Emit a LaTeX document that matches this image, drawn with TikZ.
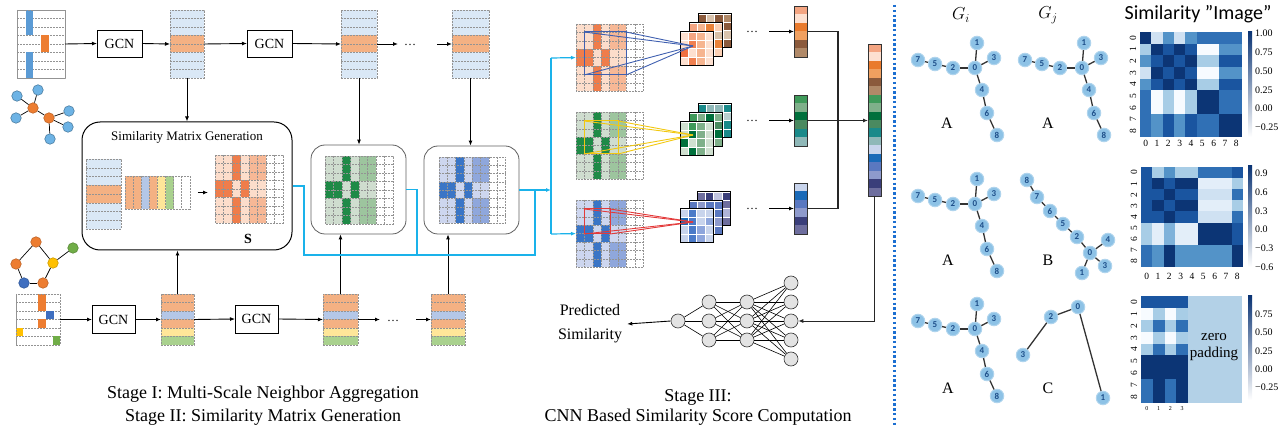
\documentclass[tikz,border=0pt]{standalone}
\usepackage{fontspec}
\setmainfont{Liberation Serif}
\newfontfamily\carlito{Carlito}
\usetikzlibrary{arrows.meta,calc}

\definecolor{lb}{HTML}{DAE8F6}
\definecolor{orf}{HTML}{F4B183}
\definecolor{blf}{HTML}{B4C7E7}
\definecolor{yef}{HTML}{FFE699}
\definecolor{grf}{HTML}{A9D18E}
\definecolor{obar}{HTML}{ED7D31}
\definecolor{bbar}{HTML}{5B9BD5}
\definecolor{bbar2}{HTML}{3F6FC0}
\definecolor{yelbar}{HTML}{FFC000}
\definecolor{gbar}{HTML}{70AD47}
\definecolor{icb}{HTML}{6DB3E5}
\definecolor{or0}{HTML}{FFFFFF}\definecolor{or1}{HTML}{FCDDCB}\definecolor{or2}{HTML}{F7B896}\definecolor{or3}{HTML}{EF7D4B}
\definecolor{gr0}{HTML}{FFFFFF}\definecolor{gr1}{HTML}{CFDDCF}\definecolor{gr2}{HTML}{9DC59E}\definecolor{gr3}{HTML}{1F8A47}
\definecolor{bl0}{HTML}{FFFFFF}\definecolor{bl1}{HTML}{CDD6EF}\definecolor{bl2}{HTML}{8FA7DC}\definecolor{bl3}{HTML}{3A75C6}
\definecolor{cyanc}{HTML}{1AB2EA}
\definecolor{hm0}{HTML}{F7FBFF}\definecolor{hm1}{HTML}{E3EEF9}\definecolor{hm2}{HTML}{CFE1F2}
\definecolor{hm3}{HTML}{A8CDE6}\definecolor{hm4}{HTML}{7FB2DA}\definecolor{hm5}{HTML}{5393C8}
\definecolor{hm6}{HTML}{3070B5}\definecolor{hm7}{HTML}{1A55A0}\definecolor{hm8}{HTML}{0C3575}
\definecolor{padc}{HTML}{B3D1E7}
\definecolor{gnodec}{HTML}{8DC2E6}
\definecolor{gtext}{HTML}{1D4E89}
\definecolor{dotc}{HTML}{1C6FD1}
\definecolor{kblue}{HTML}{4060B0}
\definecolor{kyel}{HTML}{F2C811}
\definecolor{kred}{HTML}{E33A3A}

% feature column: name, x, y, w, h, rowh, colours
\newcommand\FeatCol[7]{%
  \foreach \cc [count=\i from 0] in {#7} {
    \fill[fill=\cc] (#2,{#3+\i*#6}) rectangle ++(#4,#6);
  }
  \foreach \cc [count=\i from 0] in {#7} {
    \ifnum\i>0 \draw[gl] (#2,{#3+\i*#6}) -- ++(#4,0);\fi
  }
  \node[inner sep=0, outer sep=0, minimum width=#4pt, minimum height=#5pt, anchor=north west, draw=gray!85, line width=0.5pt, dash pattern=on 2pt off 1pt] (#1) at (#2,#3) {};
}
% similarity matrix: x, y, cell, prefix
\newcommand\SimMat[4]{%
  \foreach \rw [count=\r from 0] in {{1,1,3,1,2,2,0,0},{1,1,3,1,2,2,0,0},{1,1,3,1,2,2,0,0},{3,3,1,3,1,1,0,0},{3,3,1,3,1,1,0,0},{1,1,3,1,2,2,0,0},{1,1,3,1,2,2,0,0},{1,1,3,1,2,2,0,0}} {
    \foreach \v [count=\c from 0] in \rw {
      \fill[fill=#4\v] ({#1+\c*#3},{#2+\r*#3}) rectangle ++(#3,#3);
    }
  }
  \foreach \k in {1,...,7} {
    \draw[gl] ({#1+\k*#3},#2) -- ++(0,{8*#3});
    \draw[gl] (#1,{#2+\k*#3}) -- ++({8*#3},0);
  }
  \draw[gl] (#1,#2) rectangle ++({8*#3},{8*#3});
}
% feature map 4x4: x, y, hex list
\newcommand\FMap[3]{%
  \foreach \cc [count=\i from 0] in {#3} {
    \pgfmathtruncatemacro\rr{floor(\i/4)}
    \pgfmathtruncatemacro\ccol{\i-4*\rr}
    \edef\tmpdef{\noexpand\definecolor{tmpc}{HTML}{\cc}}\tmpdef
    \fill[fill=tmpc, draw=white, line width=0.3pt] ({#1+\ccol*8.3},{#2+\rr*8.3}) rectangle ++(8.3,8.3);
  }
  \draw[line width=1pt] (#1,#2) rectangle ++(33.2,33.2);
}
% vector: name, x, y, cellh, total h, hex list
\newcommand\VecC[6]{%
  \foreach \cc [count=\i from 0] in {#6} {
    \edef\tmpdef{\noexpand\definecolor{tmpc}{HTML}{\cc}}\tmpdef
    \fill[fill=tmpc] (#2,{#3+\i*#4}) rectangle ++(13,#4);
  }
  \node[inner sep=0, outer sep=0, minimum width=13pt, minimum height=#5pt, anchor=north west, draw=black!80, line width=0.9pt] (#1) at (#2,#3) {};
}
% heatmap: x, y, cw, ch, rows
\newcommand\HeatMap[5]{%
  \foreach \rw [count=\r from 0] in {#5} {
    \foreach \v [count=\c from 0] in \rw {
      \fill[fill=hm\v] ({#1+\c*#3},{#2+\r*#4}) rectangle ++({#3+0.3},{#4+0.3});
    }
  }
}
\newcommand\GraphA[1]{%
  \foreach \n/\px/\py in {7/918/60,5/935/64,2/953/68,0/975/68,1/977/43,3/994/58,4/982/90,6/987/113,8/997/135} {
    \node[gn] (#1\n) at (\px,\py) {\n};
  }
  \foreach \a/\b in {7/5,5/2,2/0,0/1,0/3,0/4,4/6,6/8} {\draw[ge] (#1\a) -- (#1\b);}
}

\begin{document}
\begin{tikzpicture}[x=1pt,y=-1pt,
  gl/.style={draw=gray!85, line width=0.45pt, dash pattern=on 2pt off 1pt},
  arr/.style={-{Latex[length=5pt,width=4pt]}, line width=0.9pt},
  thk/.style={line width=1.3pt, draw=black!85},
  gcn/.style={draw, line width=0.8pt, minimum width=45pt, minimum height=27pt, inner sep=0, outer sep=0, font=\fontsize{14}{14}\selectfont},
  cy/.style={draw=cyanc, line width=1.2pt},
  cya/.style={draw=cyanc, line width=1.2pt, -{Latex[length=5pt,width=4pt]}},
  nn/.style={circle, draw=black!80, fill=gray!22, minimum size=14pt, inner sep=0, line width=0.6pt},
  ic/.style={circle, minimum size=10.5pt, inner sep=0, line width=0.6pt},
  gn/.style={circle, fill=gnodec, draw=gnodec!70, line width=1pt, minimum size=13.5pt, inner sep=0, font=\carlito\bfseries\fontsize{9}{9}\selectfont, text=gtext},
  ge/.style={line width=1.3pt, draw=black!80},
  tl/.style={font=\fontsize{9.5}{9.5}\selectfont, inner sep=0},
  cbl/.style={font=\fontsize{10}{10}\selectfont, anchor=west, inner sep=0}]
\useasboundingbox (0,0) rectangle (1288,430);

%================ Stage I top row
\FeatCol{in1}{17}{10}{48}{68}{8.5}{white,white,white,white,white,white,white,white}
\fill[fill=bbar] (26,10) rectangle (33,35.5);
\fill[fill=bbar] (26,52.5) rectangle (33,78);
\fill[fill=obar] (41,35.5) rectangle (49,52.5);
\draw[draw=gray!85, line width=0.5pt, dash pattern=on 2pt off 1pt] (in1.north west) rectangle (in1.south east);
\node[gcn] (g1) at (119.5,43.5) {GCN};
\FeatCol{c1}{170}{10}{34}{68}{8.5}{lb,lb,lb,orf,orf,lb,lb,lb}
\node[gcn] (g2) at (269.5,43.5) {GCN};
\FeatCol{c2}{341}{10}{36}{68}{8.5}{lb,lb,lb,orf,orf,lb,lb,lb}
\FeatCol{c3}{452}{10}{37}{68}{8.5}{lb,lb,lb,orf,orf,lb,lb,lb}
\draw[arr] (in1.east) -- (g1.west);
\draw[arr] (g1.east) -- (c1.west);
\draw[arr] (c1.east) -- (g2.west);
\draw[arr] (g2.east) -- (c2.west);
\coordinate (t1) at (398,44); \coordinate (t2) at (437,44);
\draw[arr] (c2.east) -- (t1);
\node[font=\fontsize{12}{12}\selectfont] (td) at (410,45) {\ldots};
\draw[arr] (t2) -- (c3.west);

% top graph icon
\node[ic, fill=obar, draw=obar!80!black] (ia) at (33,108) {};
\node[ic, fill=obar, draw=obar!80!black] (ib) at (49,118) {};
\foreach \nm/\px/\py in {ic1/17/96,ic2/38/90,ic3/16/118,ic4/69/111,ic5/68/127,ic6/50/139} {
  \node[ic, fill=icb, draw=icb!70!black] (\nm) at (\px,\py) {};
}
\foreach \a/\b in {ia/ib,ia/ic1,ia/ic2,ia/ic3,ib/ic4,ib/ic5,ib/ic6} {\draw[line width=0.7pt] (\a) -- (\b);}

%================ Similarity Matrix Generation box
\node[draw, line width=1pt, rounded corners=18pt, minimum width=210pt, minimum height=128pt, inner sep=0] (smg) at (187,186) {};
\node[font=\fontsize{13}{13}\selectfont] (smgt) at (187,137) {Similarity Matrix Generation};
\FeatCol{sv}{86}{159}{35}{70}{8.75}{lb,lb,lb,orf,orf,lb,lb,lb}
\foreach \cc [count=\i from 0] in {orf,orf,blf,orf,yef,grf,white,white} {
  \fill[fill=\cc] ({125+\i*8.1},176) rectangle ++(8.1,33);
}
\foreach \k in {1,...,7} {\draw[gl] ({125+\k*8.1},176) -- ++(0,33);}
\node[inner sep=0, outer sep=0, minimum width=64.8pt, minimum height=33pt, anchor=north west, draw=gray!85, line width=0.5pt, dash pattern=on 2pt off 1pt] (sh) at (125,176) {};
\SimMat{215}{155}{8.5}{or}
\node[inner sep=0, outer sep=0, minimum size=68pt, anchor=north west] (sm) at (215,155) {};
\draw[arr, shorten <=8pt, shorten >=7pt] (sh.east) -- (sh.east -| sm.west);
\node[font=\bfseries\fontsize{14}{14}\selectfont] (slab) at (248,239) {S};

% green and blue boxes
\node[draw=gray!75!black, line width=0.8pt, rounded corners=14pt, minimum width=95pt, minimum height=89pt, inner sep=0] (gbox) at (358.5,189.5) {};
\SimMat{325}{156}{8.5}{gr}
\node[draw=gray!75!black, line width=0.8pt, rounded corners=14pt, minimum width=95pt, minimum height=88pt, inner sep=0] (bbox) at (471.5,190) {};
\SimMat{439}{157}{8.3}{bl}

\draw[arr] (c1.south) -- (c1.south |- smg.north);
\draw[arr] (c2.south) -- (c2.south |- gbox.north);
\draw[arr] (c3.south) -- (c3.south |- bbox.north);

%================ Stage I bottom row
\FeatCol{in2}{16}{294}{44}{51}{8.5}{white,white,white,white,white,white}
\fill[fill=obar] (38,294) rectangle (46,311);
\fill[fill=bbar2] (46,311) rectangle (54,319.5);
\fill[fill=obar] (38,319.5) rectangle (46,328);
\fill[fill=yelbar] (16,328) rectangle (23,336.5);
\fill[fill=gbar] (53,336.5) rectangle (60,345);
\draw[draw=gray!85, line width=0.5pt, dash pattern=on 2pt off 1pt] (in2.north west) rectangle (in2.south east);
\node[gcn, minimum width=43pt, minimum height=28pt] (g3) at (113.5,319.5) {GCN};
\FeatCol{d1}{161}{294}{33}{51}{8.5}{orf,orf,blf,orf,yef,grf}
\node[gcn, minimum width=43pt, minimum height=28pt] (g4) at (256.5,319) {GCN};
\FeatCol{d2}{323}{294}{35}{51}{8.5}{orf,orf,blf,orf,yef,grf}
\FeatCol{d3}{431}{294}{34}{51}{8.5}{orf,orf,blf,orf,yef,grf}
\draw[arr] (in2.east) -- (g3.west);
\draw[arr] (g3.east) -- (d1.west);
\draw[arr] (d1.east) -- (g4.west);
\draw[arr] (g4.east) -- (d2.west);
\coordinate (b1) at (380,319.5); \coordinate (b2) at (416,319.5);
\draw[arr] (d2.east) -- (b1);
\node[font=\fontsize{12}{12}\selectfont] (bd) at (393,321) {\ldots};
\draw[arr] (b2) -- (d3.west);
\draw[arr] (d1.north) -- (d1.north |- smg.south);
\draw[arr] (d2.north) -- (d2.north |- gbox.south);
\draw[arr] (d3.north) -- (d3.north |- bbox.south);

% bottom graph icon
\node[ic, fill=obar, draw=obar!80!black] (ja) at (36,242) {};
\node[ic, fill=obar, draw=obar!80!black] (jb) at (16,264) {};
\node[ic, fill=yelbar, draw=yelbar!80!black] (jc) at (53,263) {};
\node[ic, fill=gbar, draw=gbar!80!black] (jd) at (73,248) {};
\node[ic, fill=bbar2, draw=bbar2!80!black] (je) at (24,283) {};
\node[ic, fill=obar, draw=obar!80!black] (jf) at (43,283) {};
\foreach \a/\b in {ja/jb,ja/jc,jc/jd,jb/je,je/jf,jf/jc} {\draw[line width=0.7pt] (\a) -- (\b);}

\node[align=center, font=\fontsize{18}{23}\selectfont] (cap1) at (263,405.5) {Stage I: Multi-Scale Neighbor Aggregation\\Stage II: Similarity Matrix Generation};

%================ Stage III
\SimMat{576}{24}{8.4}{or}
\node[inner sep=0, outer sep=0, minimum size=67.2pt, anchor=north west] (m1) at (576,24) {};
\SimMat{576}{112}{8.4}{gr}
\node[inner sep=0, outer sep=0, minimum size=67.2pt, anchor=north west] (m2) at (576,112) {};
\SimMat{576}{200}{8.4}{bl}
\node[inner sep=0, outer sep=0, minimum size=67.2pt, anchor=north west] (m3) at (576,200) {};

% cyan connections
\coordinate (k1) at (304,186); \coordinate (k2) at (304,255); \coordinate (k3) at (535,255);
\coordinate (k4) at (417,189.5); \coordinate (k5) at (417,255); \coordinate (k6) at (535,190);
\coordinate (vt) at (551,58); \coordinate (vb) at (551,234);
\draw[cy] (smg.east) -- (k1) -- (k2) -- (k3) -- (k6);
\draw[cy] (gbox.east) -- (k4) -- (k5);
\draw[cya] (bbox.east) -- (vt |- bbox.east);
\draw[cy] (vt) -- (vb);
\draw[cya] (vt) -- (m1.west);
\draw[cya] (vb) -- (m3.west);

% feature map stacks
\FMap{698}{14}{8b5a3c,d9c3ad,8b5a3c,b08968,b08968,8b5a3c,d9c3ad,8b5a3c,8b5a3c,b08968,8b5a3c,d9c3ad,d9c3ad,8b5a3c,b08968,8b5a3c}
\FMap{689}{23}{f4a582,f6b590,e9823a,fbd0b5,f08a4b,fde0d0,f4a582,d8c0a8,f4a582,f08a4b,fbd0b5,e9823a,fde0d0,f4a582,e9823a,fbd0b5}
\FMap{680}{32}{fde0d0,f4a582,f6b590,fde0d0,fde0d0,f08050,f6b590,fde0d0,f07040,fde0d0,f6b590,fde0d0,fde0d0,f08050,f6b590,fde0d0}
\draw[kblue, line width=1pt] (584,32) rectangle (626,75);
\foreach \p in {(584,32),(626,32),(584,75),(626,75)} {\draw[kblue, line width=0.9pt] \p -- (693,46);}

\FMap{698}{104}{1a8a8a,8fb8b8,8fb8b8,1a8a8a,8fb8b8,1a8a8a,8fb8b8,b8d0d0,1a8a8a,8fb8b8,1a8a8a,1a8a8a,8fb8b8,1a8a8a,8fb8b8,1a8a8a}
\FMap{689}{113}{3f9a5a,7fb08a,00703c,7fb08a,7fb08a,00703c,7fb08a,4a8a60,00703c,7fb08a,3f9a5a,00703c,7fb08a,3f9a5a,00703c,7fb08a}
\FMap{680}{122}{d0e0d0,3f9a5a,7fb08a,d0e0d0,d0e0d0,00703c,7fb08a,d0e0d0,00703c,d0e0d0,7fb08a,d0e0d0,d0e0d0,00703c,7fb08a,d0e0d0}
\draw[kyel, line width=1pt] (584,121) rectangle (618,154);
\foreach \p in {(584,121),(618,121),(584,154),(618,154)} {\draw[kyel, line width=0.9pt] \p -- (693,135);}

\FMap{697}{192}{6e6e9e,3a3e7a,c0c4e0,3a3e7a,3a3e7a,6e6e9e,3a3e7a,6e6e9e,6e6e9e,3a3e7a,6e6e9e,b0b4d8,3a3e7a,6e6e9e,3a3e7a,6e6e9e}
\FMap{689}{201}{5a78c0,8e9acc,5a78c0,5a78c0,3a5aa8,5a78c0,8e9acc,5a78c0,5a78c0,8e9acc,5a78c0,8e9acc,8e9acc,5a78c0,8e9acc,5a78c0}
\FMap{680}{209}{c8d4ec,4a7ac8,c8d4ec,c8d4ec,1a6ab8,4a7ac8,c8d4ec,8ea6dc,c8d4ec,4a7ac8,8ea6dc,c8d4ec,c8d4ec,4a7ac8,8ea6dc,c8d4ec}
\draw[kred, line width=1pt] (584,209) rectangle (610,234);
\foreach \p in {(584,209),(610,209),(584,234),(610,234)} {\draw[kred, line width=0.9pt] \p -- (693,222);}

% vectors
\VecC{v1}{794}{6}{8.5}{51}{f4a582,fde0d0,e97a2c,f0a060,8b5a3c,b08968}
\VecC{v2}{794}{95}{8.5}{51}{3f9a5a,7fb08a,00703c,4a8a60,1a8a8a,8fb8b8}
\VecC{v3}{794}{183}{8.5}{51}{c8d4ec,1a6ab8,5a78c0,8e9acc,3a3e7a,6e6e9e}
\VecC{fv}{868}{44}{8.45}{152.1}{f4a582,fde0d0,e97a2c,f0a060,8b5a3c,b08968,3f9a5a,7fb08a,00703c,4a8a60,1a8a8a,8fb8b8,c8d4ec,1a6ab8,5a78c0,8e9acc,3a3e7a,6e6e9e}

\foreach \yy/\nm in {31.5/p1,120.5/p2,208.5/p3} {
  \node[font=\fontsize{12}{12}\selectfont] at (752,\yy) {\ldots};
  \coordinate (\nm) at (769,\yy);
}
\draw[arr] (p1) -- (v1.west);
\draw[arr] (p2) -- (v2.west);
\draw[arr] (p3) -- (v3.west);
\coordinate (jn) at (838,120.5);
\draw[thk] (v1.east) -| (jn);
\draw[thk] (v3.east) -| (jn);
\draw[thk, arr] (v2.east) -- (v2.east -| fv.west);

% neural network
\node[nn] (n1) at (678,321) {};
\node[nn] (n2a) at (709,302) {}; \node[nn] (n2b) at (709,321) {}; \node[nn] (n2c) at (709,340) {};
\node[nn] (n3a) at (747,302) {}; \node[nn] (n3b) at (747,321) {}; \node[nn] (n3c) at (747,340) {};
\node[nn] (n4a) at (791,283) {}; \node[nn] (n4b) at (791,302) {}; \node[nn] (n4c) at (791,321) {};
\node[nn] (n4d) at (791,340) {}; \node[nn] (n4e) at (791,359) {};
\foreach \a in {n2a,n2b,n2c} {\draw[line width=0.6pt] (n1) -- (\a);}
\foreach \a in {n2a,n2b,n2c} {\foreach \b in {n3a,n3b,n3c} {\draw[line width=0.6pt] (\a) -- (\b);}}
\foreach \a in {n3a,n3b,n3c} {\foreach \b in {n4a,n4b,n4c,n4d,n4e} {\draw[line width=0.6pt] (\a) -- (\b);}}
\draw[thk, arr] (fv.south) |- (n4c.east);
\node[align=center, font=\fontsize{16}{24}\selectfont, inner sep=5pt] (pred) at (590,324) {Predicted\\Similarity};
\draw[arr] (n1.west) -- (pred.east);

\node[align=center, font=\fontsize{18}{20}\selectfont] (cap3) at (698,407) {Stage III:\\CNN Based Similarity Score Computation};

%================ right panel
\coordinate (dl1) at (894,5); \coordinate (dl2) at (894,427);
\draw[dotc, line width=3pt, dash pattern=on 2.4pt off 2.4pt] (dl1) -- (dl2);

\node[font=\fontsize{17}{17}\selectfont] (gi) at (961,15) {$G_i$};
\node[font=\fontsize{17}{17}\selectfont] (gj) at (1048,15) {$G_j$};
\node[font=\carlito\fontsize{20}{20}\selectfont] (sit) at (1198,14) {Similarity ”Image”};

\GraphA{ra}
\begin{scope}[shift={(107,0)}] \GraphA{rb} \end{scope}
\begin{scope}[shift={(0,136)}] \GraphA{rc} \end{scope}
\begin{scope}[shift={(0,261)}] \GraphA{re} \end{scope}
% graph B
\foreach \n/\px/\py in {8/1027/180,7/1037/197,6/1050/211,5/1063/224,2/1077/237,0/1090/253,4/1108/240,3/1105/266,1/1082/273} {
  \node[gn] (rd\n) at (\px,\py) {\n};
}
\foreach \a/\b in {8/7,7/6,6/5,5/2,2/0,0/4,0/3,0/1} {\draw[ge] (rd\a) -- (rd\b);}
% graph C
\foreach \n/\px/\py in {0/1078/307,2/1051/317,3/1023/355,1/1103/398} {
  \node[gn] (rf\n) at (\px,\py) {\n};
}
\foreach \a/\b in {0/2,2/3,0/1} {\draw[ge] (rf\a) -- (rf\b);}

\foreach \lx/\ly/\lt/\nm in {947/123/A/la1,1048/123/A/la2,948/260/A/la3,1048/260/B/la4,948/388/A/la5,1048/388/C/la6} {
  \node[font=\fontsize{16}{16}\selectfont] (\nm) at (\lx,\ly) {\lt};
}

% heatmap 1
\HeatMap{1140}{32}{11.33}{11.67}{{8,2,5,2,5,6,6,6,6},{3,8,7,8,7,0,0,5,5},{5,7,8,7,8,3,3,7,7},{2,8,7,8,7,0,0,5,5},{5,7,8,7,8,3,3,7,7},{6,0,3,0,3,8,8,6,6},{6,0,3,0,3,8,8,6,6},{6,5,7,5,7,6,6,8,8},{6,5,7,5,7,6,6,8,8}}
\foreach \k in {0,...,8} {
  \node[tl, rotate=90] at (1133,{32+(\k+0.5)*11.67}) {\k};
  \node[tl] at ({1140+(\k+0.5)*11.33},143) {\k};
}
\shade[top color=hm8, middle color=hm4, bottom color=white] (1248,32) rectangle (1252,137);
\foreach \yy/\tx in {33/1.00,52/0.75,71/0.50,90/0.25,108/0.00,127/−0.25} {\node[cbl] at (1255,\yy) {\tx};}

% heatmap 2
\HeatMap{1141}{167}{11.33}{11.11}{{7,3,5,3,3,6,6,6,7},{7,8,7,8,8,1,1,1,3},{7,7,8,7,7,2,2,2,6},{7,8,7,8,8,1,1,1,3},{7,7,8,7,7,2,2,2,6},{3,1,4,1,1,8,8,8,7},{3,1,4,1,1,8,8,8,7},{6,5,8,5,5,5,5,5,8},{6,5,8,5,5,5,5,5,8}}
\foreach \k in {0,...,8} {
  \node[tl, rotate=90] at (1134,{167+(\k+0.5)*11.11}) {\k};
  \node[tl] at ({1141+(\k+0.5)*11.33},276) {\k};
}
\shade[top color=hm8, middle color=hm4, bottom color=white] (1248,166) rectangle (1252,267);
\foreach \yy/\tx in {173/0.9,192/0.6,211/0.3,229/0.0,248/−0.3,267/−0.6} {\node[cbl] at (1255,\yy) {\tx};}

% heatmap 3
\HeatMap{1141}{296}{11.75}{11.9}{{7,7,7,7},{0,3,0,3},{3,6,3,6},{0,3,0,3},{3,6,3,6},{8,8,8,8},{8,8,8,8},{6,8,6,8},{6,8,6,8}}
\fill[padc] (1188,296) rectangle (1242,403);
\foreach \k in {0,...,8} {
  \node[tl, rotate=90] at (1134,{296+(\k+0.5)*11.9}) {\k};
}
\foreach \k in {0,...,3} {
  \node[font=\fontsize{6}{6}\selectfont, inner sep=0] at ({1141+(\k+0.5)*11.75},409) {\k};
}
\node[align=center, font=\fontsize{15}{17}\selectfont] (zp) at (1214,347) {zero\\padding};
\shade[top color=hm8, middle color=hm4, bottom color=white] (1248,296) rectangle (1252,400);
\foreach \yy/\tx in {314/0.75,332/0.50,351/0.25,369/0.00,387/−0.25} {\node[cbl] at (1255,\yy) {\tx};}
\end{tikzpicture}
\end{document}
